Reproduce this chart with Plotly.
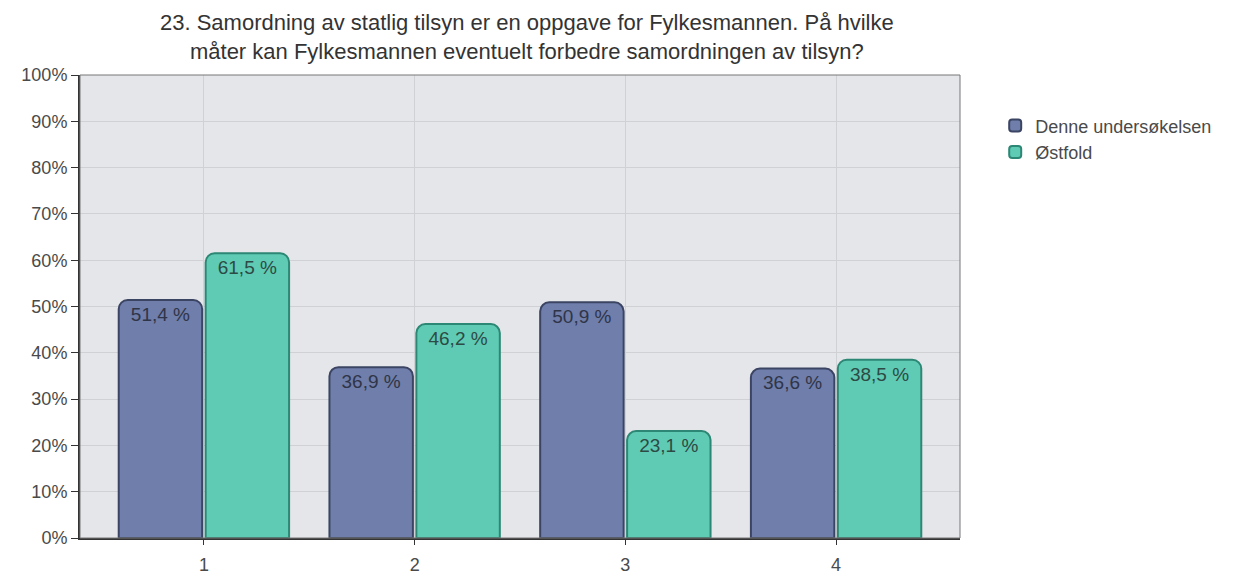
import plotly.graph_objects as go

categories = ["1", "2", "3", "4"]
series_names = ["Denne undersøkelsen", "Østfold"]
denne = [51.4, 36.9, 50.9, 36.6]
ostfold = [61.5, 46.2, 23.1, 38.5]
y_ticks = list(range(0, 101, 10))
title_text = ("23. Samordning av statlig tilsyn er en oppgave for Fylkesmannen. På hvilke<br>"
              "måter kan Fylkesmannen eventuelt forbedre samordningen av tilsyn?")

def fmt(v):
    return f"{v:.1f}".replace(".", ",") + " %"

FONT = "Liberation Sans, Arial, sans-serif"
xpos = [1, 2, 3, 4]

fig = go.Figure()
fig.add_trace(go.Bar(
    x=xpos, y=denne, name=series_names[0],
    text=[fmt(v) for v in denne], textposition="inside", insidetextanchor="end",
    textfont=dict(family=FONT, size=19, color="#2f3548"),
    marker=dict(color="#6f7eab", line=dict(color="#3b4563", width=2)),
))
fig.add_trace(go.Bar(
    x=xpos, y=ostfold, name=series_names[1],
    text=[fmt(v) for v in ostfold], textposition="inside", insidetextanchor="end",
    textfont=dict(family=FONT, size=19, color="#2d4a44"),
    marker=dict(color="#5fcbb4", line=dict(color="#2c8775", width=2)),
))

fig.update_layout(
    width=1250, height=568,
    margin=dict(l=72, r=298, t=67, b=38, autoexpand=False),
    paper_bgcolor="white",
    plot_bgcolor="#e5e6e9",
    barmode="group",
    bargap=0.175,
    bargroupgap=0.04,
    barcornerradius=9,
    font=dict(family=FONT, size=18, color="#4a4a4a"),
    legend=dict(x=1.04, y=0.93, xanchor="left", yanchor="top",
                font=dict(family=FONT, size=18, color="#4a4a4a"),
                bgcolor="rgba(0,0,0,0)", tracegroupgap=0, itemwidth=30),
    showlegend=True,
)
fig.add_annotation(
    text=title_text, xref="paper", yref="paper", x=0.508, y=1.081,
    xanchor="center", yanchor="middle", showarrow=False, align="center",
    font=dict(family=FONT, size=22, color="#333333"),
)
fig.update_xaxes(
    tickmode="array", tickvals=xpos, ticktext=categories,
    range=[0.412, 4.588], automargin=False,
    showgrid=True, gridcolor="#d0d1d4", gridwidth=1,
    showline=True, linecolor="#333333", linewidth=2, mirror=False,
    ticks="outside", ticklen=5, tickcolor="#333333", ticklabelstandoff=4,
    tickfont=dict(family=FONT, size=18, color="#4a4a4a"),
    zeroline=False,
)
fig.update_yaxes(
    range=[0, 100], tickmode="array", tickvals=y_ticks,
    ticktext=[f"{t}%" for t in y_ticks], automargin=False,
    showgrid=True, gridcolor="#d0d1d4", gridwidth=1,
    showline=True, linecolor="#333333", linewidth=2,
    ticks="outside", ticklen=7, tickcolor="#333333",
    tickfont=dict(family=FONT, size=18, color="#4a4a4a"),
    zeroline=False,
)
fig.add_shape(type="rect", xref="paper", yref="paper", x0=0, y0=0, x1=1, y1=1,
              line=dict(color="#777777", width=1), fillcolor="rgba(0,0,0,0)", layer="above")

fig.write_html("out.html")
